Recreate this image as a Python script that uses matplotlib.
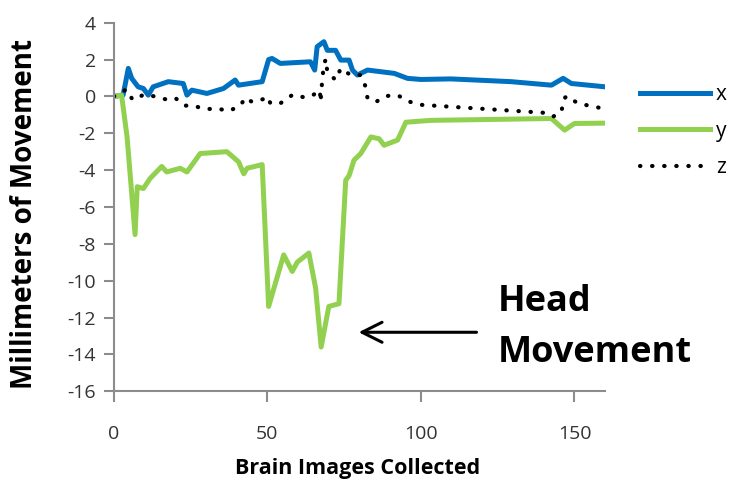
import matplotlib
matplotlib.use("Agg")
from matplotlib import pyplot as plt

# readings of the head motion traces (image number, mm)
x_img = [0, 3, 4.7, 5.8, 7.9, 9.6, 11.2, 12.8, 17.7, 22.6, 23.8, 25.4, 30.3, 35.7,
         39.5, 40.6, 48.3, 50.4, 51.5, 54.2, 64, 65.4, 66.2, 68.4, 69.5, 72.2,
         73.9, 76.6, 77.7, 79.3, 82.6, 91.3, 95.6, 100, 109.8, 129.4, 142.5,
         146.3, 149, 160]
x_mm = [0, 0.07, 1.52, 0.98, 0.52, 0.43, 0.07, 0.52, 0.8, 0.7, 0.07, 0.34, 0.16, 0.43,
        0.89, 0.61, 0.8, 2.0, 2.06, 1.79, 1.88, 1.43, 2.7, 2.97, 2.5, 2.5,
        1.97, 1.97, 1.43, 1.16, 1.43, 1.25, 0.98, 0.92, 0.95, 0.8, 0.61,
        0.98, 0.7, 0.52]

y_img = [0, 2.5, 4.3, 6.9, 7.6, 9.6, 11.8, 15.6, 17.2, 21.6, 23.8, 28.1, 36.8,
         40.6, 42.3, 43.4, 48.3, 50.4, 55.3, 58.1, 59.7, 63.5, 65.7, 67.5,
         70.0, 73.3, 75.5, 76.6, 78.2, 80.4, 83.7, 86.4, 88.0, 92.4, 95.1,
         103.3, 142.5, 146.8, 150, 160]
y_mm = [0, 0.07, -2.2, -7.5, -4.9, -5.0, -4.45, -3.8, -4.1, -3.9, -4.1, -3.1, -3.0,
        -3.55, -4.2, -3.9, -3.7, -11.4, -8.6, -9.5, -9.0, -8.5, -10.4, -13.6,
        -11.4, -11.25, -4.55, -4.3, -3.46, -3.1, -2.2, -2.3, -2.65, -2.37, -1.4,
        -1.3, -1.2, -1.83, -1.47, -1.45]

z_img = [0, 4.1, 5.8, 6.9, 9.6, 13.4, 16.7, 19.9, 22.9, 25.9, 29.7, 33.6, 37.4,
         41.2, 42.8, 45, 48.6, 49.9, 51, 54.2, 56.4, 58.4, 62.4, 65.1, 67.1,
         67.3, 67.9, 68.4, 69, 69.5, 72.2, 73.9, 77.1, 80.4, 82, 82.6, 85.3,
         88.6, 92.4, 95.6, 99.4, 140.3, 143, 145.8, 146.3, 147.4, 151.2, 160]
z_mm = [0, 0.38, -0.1, -0.2, 0.1, 0, -0.15, -0.07, -0.5, -0.5, -0.7, -0.65, -0.8,
        -0.5, -0.07, -0.3, -0.15, 0, -0.38, -0.38, -0.1, 0.1, -0.07, 0.1, 0.34,
        -0.3, 0.98, 1.7, 2.03, 1.34, 0.89, 1.52, 1.16, 1.16, 0.52, -0.1, -0.3,
        0.02, 0.07, -0.25, -0.45, -0.89, -1.1, -0.84, -0.2, 0.02, -0.38, -0.68]

yticks = list(range(-16, 5, 2))
xticks = [0, 50, 100, 150]

plt.rcParams['font.family'] = ['Open Sans', 'DejaVu Sans']
plt.rcParams['axes.unicode_minus'] = False

fig = plt.figure(figsize=(7.3, 4.83), dpi=100)
ax = fig.add_axes([0.156, 0.19, 0.673, 0.763])

ax.plot(x_img, x_mm, color='#0070C0', lw=3.6, label='x', solid_joinstyle='round')
ax.plot(y_img, y_mm, color='#92D050', lw=3.6, label='y', solid_joinstyle='round')
ax.plot(z_img, z_mm, color='black', lw=3, label='z',
        linestyle=(0, (0.1, 2.8)), dash_capstyle='round')

ax.set_xlim(0, 160)
ax.set_ylim(-16, 4)
ax.set_yticks(yticks)
ax.set_xticks(xticks)

for side in ['top', 'right']:
    ax.spines[side].set_visible(False)
for side in ['left', 'bottom']:
    ax.spines[side].set_color('#8c8c8c')
    ax.spines[side].set_linewidth(1.5)

ax.tick_params(axis='y', length=7, width=1.5, color='#8c8c8c', labelsize=14,
               labelcolor='#333333', pad=6)
ax.tick_params(axis='x', length=8, width=1.5, color='#8c8c8c', labelsize=14,
               labelcolor='#333333', pad=16)

ax.set_ylabel('Millimeters of Movement', fontsize=20, fontweight='bold')
ax.yaxis.set_label_coords(-0.152, 0.48)
ax.set_xlabel('Brain Images Collected', fontsize=15.5, fontweight='bold')
ax.xaxis.set_label_coords(0.497, -0.18)

ax.annotate('', xy=(78.8, -12.8), xytext=(119, -12.8),
            arrowprops=dict(arrowstyle='->', lw=2.2, color='black', mutation_scale=36))
ax.text(125, -12.55, 'Head\nMovement', fontsize=26, fontweight='bold',
        ha='left', va='center', linespacing=1.55)

# legend sits past the right edge, labels partly cut like the original
ax.legend(loc='upper left', bbox_to_anchor=(1.049, 0.862), frameon=False,
          borderpad=0, handlelength=3.4, fontsize=15, labelspacing=0.75,
          handletextpad=0.25)

fig.savefig('out.png', dpi=100)
